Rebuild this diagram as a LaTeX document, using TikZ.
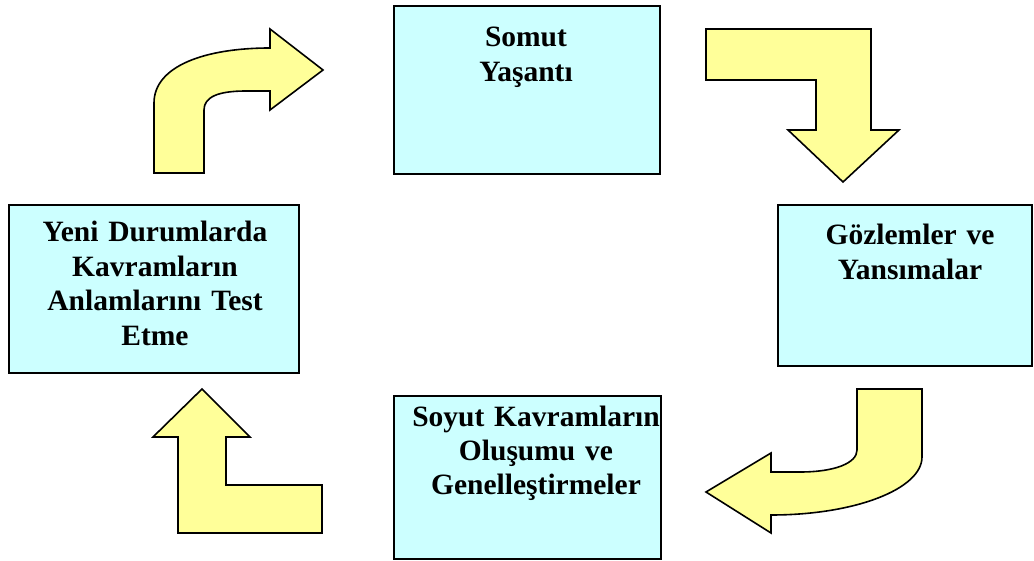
\documentclass[tikz,border=0pt]{standalone}
\usepackage{fontspec}
\setmainfont{Liberation Serif}
\begin{document}
\begin{tikzpicture}[x=1pt,y=-1pt,
  stagebox/.style={draw=black, line width=1.8pt, fill=stagefill, rectangle,
    inner sep=0pt, anchor=north west},
  stagetext/.style={font=\bfseries\fontsize{29.5}{34.5}\selectfont, align=center,
    text width=300pt, inner sep=0pt, anchor=base},
  bendarrow/.style={draw=black, line width=1.6pt, fill=arrowfill, line join=miter}]
\definecolor{stagefill}{HTML}{CCFFFF}
\definecolor{arrowfill}{HTML}{FFFF99}
\useasboundingbox (0,0) rectangle (1034,561);

% the four stages of the cycle
\node[stagebox, minimum width=266pt, minimum height=168pt] (somut) at (393,5) {};
\node[stagebox, minimum width=254pt, minimum height=161pt] (gozlem) at (777,204) {};
\node[stagebox, minimum width=267pt, minimum height=163pt] (soyut) at (393,395) {};
\node[stagebox, minimum width=290pt, minimum height=168pt] (yeni) at (8,204) {};

\node[stagetext] (somutText) at (526,47) {Somut\\Yaşantı};
\node[stagetext] (gozlemText) at (910,245) {Gözlemler ve\\Yansımalar};
\node[stagetext] (soyutText) at (536,426) {Soyut Kavramların\\Oluşumu ve\\Genelleştirmeler};
\node[stagetext] (yeniText) at (155,242) {Yeni Durumlarda\\Kavramların\\Anlamlarını Test\\Etme};

% curved arrow, left stage up to the top stage
\draw[bendarrow] (154,173) -- (154,103)
  .. controls (154,66) and (205,48) .. (270,48)
  -- (270,29) -- (323,70) -- (270,110) -- (270,91) -- (246,91)
  .. controls (218,91) and (204,97) .. (204,110)
  -- (204,173) -- cycle;

% elbow arrow, top stage down to the right stage
\draw[bendarrow] (706,29) -- (871,29) -- (871,130) -- (899,130) -- (843,182)
  -- (788,130) -- (816,130) -- (816,80) -- (706,80) -- cycle;

% curved arrow, right stage down to the bottom stage
\draw[bendarrow] (857,389) -- (922,389) -- (922,457)
  .. controls (922,489) and (855,515) .. (771,515)
  -- (771,533) -- (706,492) -- (771,453) -- (771,472) -- (800,472)
  .. controls (835,472) and (857,463) .. (857,450)
  -- cycle;

% elbow arrow, bottom stage up to the left stage
\draw[bendarrow] (202,389) -- (250,437) -- (226,437) -- (226,485) -- (322,485)
  -- (322,533) -- (178,533) -- (178,437) -- (153,437) -- cycle;
\end{tikzpicture}
\end{document}
